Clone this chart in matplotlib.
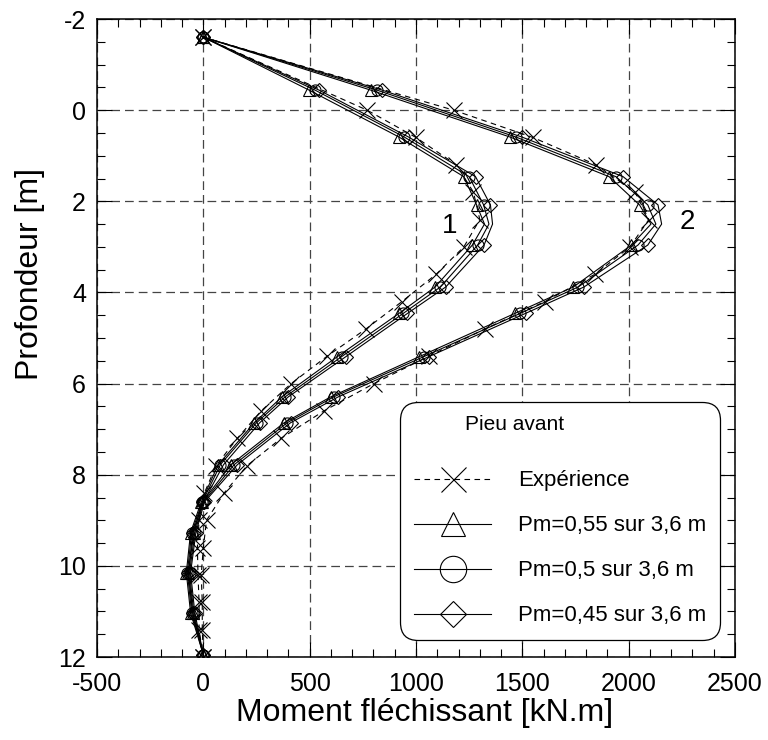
import matplotlib
matplotlib.use("Agg")
import matplotlib.pyplot as plt
from matplotlib.lines import Line2D
from matplotlib.ticker import MultipleLocator

plt.rcParams['font.family'] = ['Liberation Sans', 'DejaVu Sans']
plt.rcParams['axes.unicode_minus'] = False

# Experimental data (depth in m, moment in kN.m)
depth_exp = [-1.6, 0.0, 0.6, 1.2, 1.8, 2.4, 3.0, 3.6, 4.2, 4.8, 5.4, 6.0,
             6.6, 7.2, 7.8, 8.4, 9.0, 9.6, 10.2, 10.8, 11.4, 12.0]
exp_1 = [0, 770, 1000, 1190, 1270, 1300, 1225, 1095, 934, 765, 582, 413,
         272, 160, 60, 5, -20, -28, -25, -20, -20, 0]
exp_2 = [0, 1177, 1550, 1847, 2030, 2095, 2006, 1842, 1606, 1325, 1060, 802,
         567, 366, 206, 98, 15, 0, -10, -5, -5, 0]

# Computed curves (index 5 = 2.5 m carries no marker)
depth_calc = [-1.6, -0.44, 0.59, 1.46, 2.08, 2.5, 2.96, 3.88, 4.46, 5.41,
              6.29, 6.86, 7.78, 8.6, 9.27, 10.15, 11.03, 11.95]
calc_1_055 = [0, 497, 920, 1225, 1285, 1322, 1265, 1090, 920, 630, 370, 240,
              70, -10, -60, -80, -60, 0]
calc_1_050 = [0, 525, 945, 1250, 1318, 1343, 1290, 1115, 940, 650, 385, 250,
              80, -5, -55, -75, -55, 0]
calc_1_045 = [0, 544, 965, 1280, 1350, 1360, 1320, 1140, 960, 670, 400, 265,
              95, 0, -50, -70, -50, 0]
calc_2_055 = [0, 787, 1442, 1908, 2051, 2105, 2013, 1740, 1465, 1015, 600, 380,
              130, -5, -45, -70, -50, 0]
calc_2_050 = [0, 816, 1470, 1940, 2090, 2128, 2044, 1763, 1490, 1036, 614, 394,
              145, 0, -40, -65, -45, 0]
calc_2_045 = [0, 840, 1498, 1974, 2138, 2155, 2090, 1790, 1515, 1060, 635, 410,
              160, 5, -35, -60, -40, 0]

legend_labels = ['Expérience', 'Pm=0,55 sur 3,6 m', 'Pm=0,5 sur 3,6 m',
                 'Pm=0,45 sur 3,6 m']

marks = [i for i in range(len(depth_calc)) if i != 5]

fig = plt.figure(figsize=(7.68, 7.40), dpi=100)
ax = fig.add_axes([97 / 768, 1 - 657 / 740, 638 / 768, 638 / 740])

dash = (0, (5, 4))
for exp in (exp_1, exp_2):
    ax.plot(exp, depth_exp, color='black', lw=0.8, linestyle=dash,
            marker='x', ms=12, mew=0.8, zorder=3)

styles = [('^', 9), ('o', 8), ('D', 7)]
for curves in ((calc_1_055, calc_1_050, calc_1_045),
               (calc_2_055, calc_2_050, calc_2_045)):
    for vals, (m, ms) in zip(curves, styles):
        ax.plot(vals, depth_calc, color='black', lw=0.8, marker=m, ms=ms,
                mfc='none', mec='black', mew=0.8, markevery=marks, zorder=3)

ax.text(1160, 2.55, '1', fontsize=20, ha='center', va='center')
ax.text(2275, 2.45, '2', fontsize=20, ha='center', va='center')

ax.set_xlim(-500, 2500)
ax.set_ylim(12, -2)
ax.xaxis.set_major_locator(MultipleLocator(500))
ax.xaxis.set_minor_locator(MultipleLocator(100))
ax.yaxis.set_major_locator(MultipleLocator(2))
ax.yaxis.set_minor_locator(MultipleLocator(0.5))
ax.tick_params(which='both', direction='in', top=True, right=True,
               labelsize=18, width=0.8)
ax.tick_params(which='major', length=11)
ax.tick_params(which='minor', length=6)
ax.tick_params(axis='x', which='major', pad=11)
ax.tick_params(axis='y', which='major', pad=8)
for s in ax.spines.values():
    s.set_linewidth(1.1)
ax.grid(True, which='major', color='#444444', lw=0.9, linestyle=(0, (7, 4)))

ax.set_xlabel('Moment fléchissant [kN.m]', fontsize=23, labelpad=3)
ax.xaxis.set_label_coords(0.513, -0.065)
ax.set_ylabel('Profondeur [m]', fontsize=23)
ax.yaxis.set_label_coords(-0.082, 0.6)

handles = [
    Line2D([], [], color='black', lw=0.8, linestyle=dash, marker='x', ms=18, mew=0.8),
    Line2D([], [], color='black', lw=0.8, marker='^', ms=17, mfc='none', mew=0.8),
    Line2D([], [], color='black', lw=0.8, marker='o', ms=19, mfc='none', mew=0.8),
    Line2D([], [], color='black', lw=0.8, marker='D', ms=13, mfc='none', mew=0.8),
]
leg = ax.legend(handles, legend_labels, loc='lower right',
                bbox_to_anchor=(0.976, 0.027), borderaxespad=0,
                fontsize=16, title=' ', title_fontsize=24,
                handlelength=3.5, handletextpad=1.2, labelspacing=1.08,
                borderpad=0.6, frameon=True, fancybox=True, framealpha=1)
frame = leg.get_frame()
frame.set_edgecolor('black')
frame.set_linewidth(0.9)
frame.set_boxstyle('round,pad=0,rounding_size=0.8')
leg.set_zorder(5)

ax.text((515 - 97) / 638, (657 - 425) / 638, 'Pieu avant', transform=ax.transAxes,
        fontsize=15, ha='center', va='center', zorder=6)

fig.savefig('out.png', dpi=100)
